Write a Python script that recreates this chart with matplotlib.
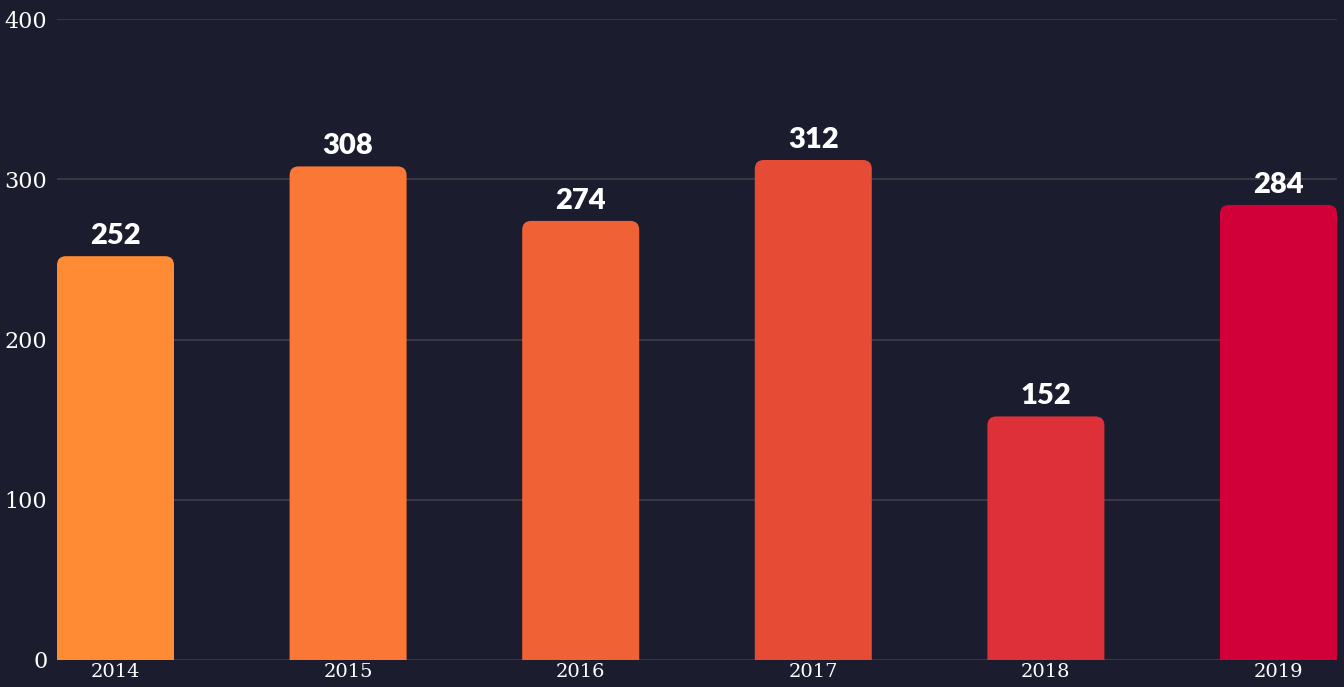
import matplotlib.pyplot as plt
from matplotlib.path import Path
from matplotlib.patches import PathPatch

years = ["2014", "2015", "2016", "2017", "2018", "2019"]
values = [252, 308, 274, 312, 152, 284]
colors = ["#FF8C35", "#FA7735", "#F06236", "#E54B35", "#DE3038", "#D10038"]

BG = "#1B1D2E"
GRID = "#3C3C46"

W, H = 1344, 687
fig = plt.figure(figsize=(W / 100, H / 100), dpi=100, facecolor=BG)
ax = fig.add_axes([57 / W, 27 / H, 1280 / W, 641 / H], facecolor=BG)

x = list(range(len(years)))
bar_w = 0.503
ax.set_xlim(-0.2515, 5.2515)
ax.set_ylim(0, 400)

# pixel -> data units, for the rounded top corners
px_x = 5.503 / 1280
px_y = 400 / 641
rx = 9 * px_x
ry = 9 * px_y

bars = ax.bar(x, values, width=bar_w, color=colors, linewidth=0, zorder=2)
for b in bars:
    x0, x1 = b.get_x(), b.get_x() + b.get_width()
    top = b.get_height()
    verts = [(x0, 0), (x0, top - ry), (x0, top), (x0 + rx, top),
             (x1 - rx, top), (x1, top), (x1, top - ry), (x1, 0), (x0, 0)]
    codes = [Path.MOVETO, Path.LINETO, Path.CURVE3, Path.CURVE3,
             Path.LINETO, Path.CURVE3, Path.CURVE3, Path.LINETO, Path.CLOSEPOLY]
    ax.add_patch(PathPatch(Path(verts, codes), facecolor=b.get_facecolor(),
                           edgecolor="none", zorder=2))
    b.set_visible(False)
    ax.text(b.get_x() + b.get_width() / 2, top + 7 * px_y, f"{top:.0f}",
            ha="center", va="bottom", color="white", fontsize=21,
            fontweight="heavy", family="Lato", zorder=4)

ax.set_yticks([0, 100, 200, 300, 400])
ax.grid(axis="y", color=GRID, linewidth=1.3, zorder=0)
ax.set_axisbelow(True)
ax.set_xticks(x)
ax.set_xticklabels(years)
ax.tick_params(axis="x", length=0, pad=2, labelsize=14, labelcolor="white")
ax.tick_params(axis="y", length=0, pad=7, labelsize=16, labelcolor="white")
for lab in ax.get_xticklabels() + ax.get_yticklabels():
    lab.set_family("DejaVu Serif")
for s in ax.spines.values():
    s.set_visible(False)

fig.savefig("out.png", dpi=100, facecolor=BG)
